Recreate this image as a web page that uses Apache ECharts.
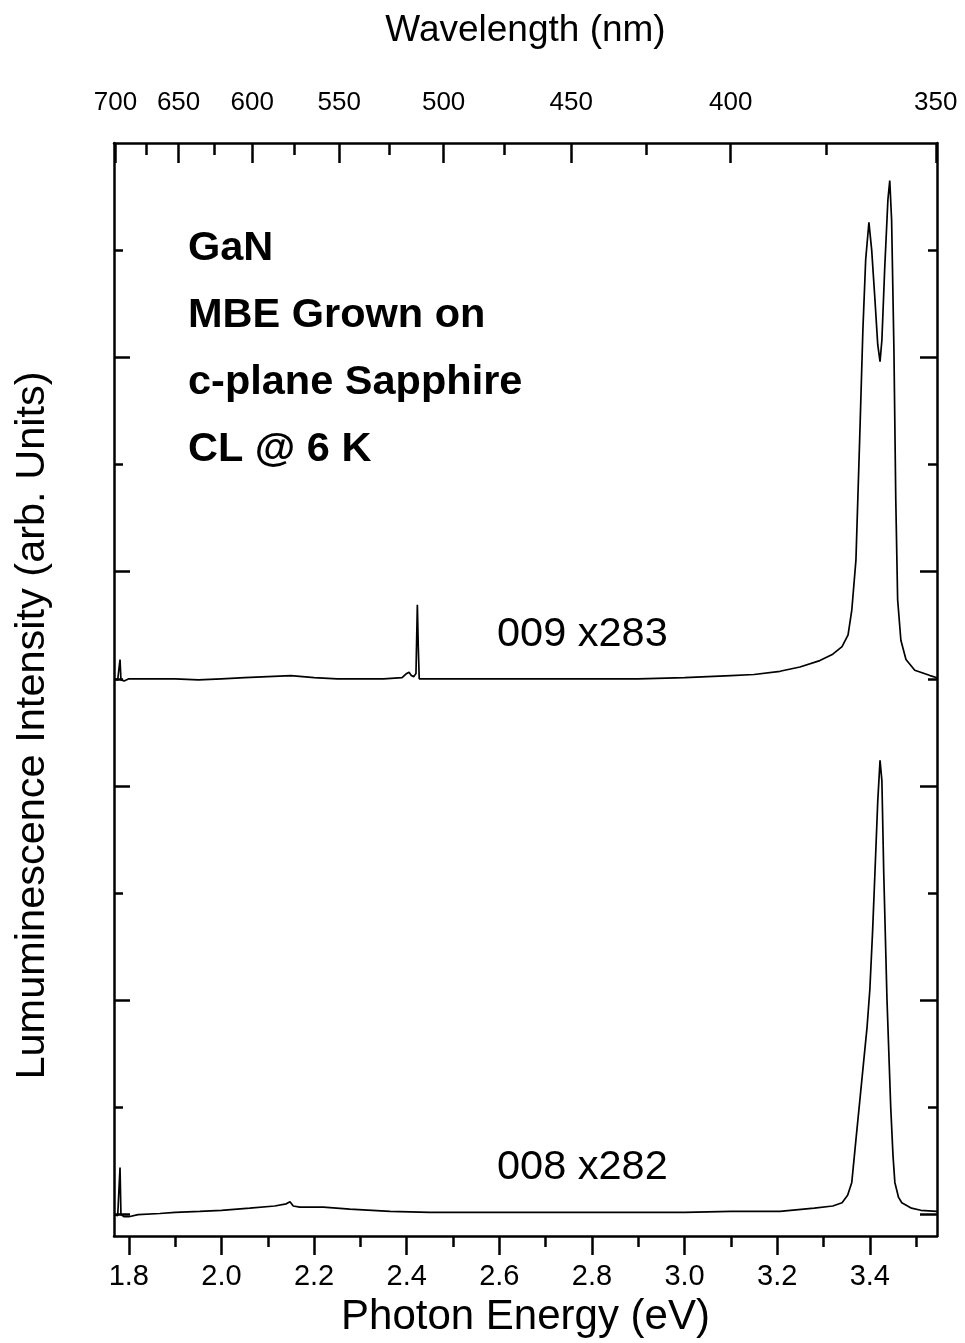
<!DOCTYPE html>
<html>
<head>
<meta charset="utf-8">
<script src="https://cdn.jsdelivr.net/npm/echarts@6/dist/echarts.min.js"></script>
<style>
  html, body { margin: 0; padding: 0; background: #ffffff; }
  #chart { width: 965px; height: 1343px; }
</style>
</head>
<body>
<div id="chart"></div>
<script>
// Photon energy <-> wavelength conversion constant (eV·nm)
const HC = 1239.84;

// Axis ranges and tick values
const energyRange = [1.768, 3.545];
const intensityRange = [-0.2, 10.0];
const energyTicks = [1.8, 2.0, 2.2, 2.4, 2.6, 2.8, 3.0, 3.2, 3.4];
const energyMinorTicks = [1.9, 2.1, 2.3, 2.5, 2.7, 2.9, 3.1, 3.3, 3.5];
const wavelengthTicks = [700, 650, 600, 550, 500, 450, 400, 350];
const wavelengthMinorTicks = [675, 625, 575, 525, 475, 425, 375];
const intensityTicks = [0, 2, 4, 6, 8];
const intensityMinorTicks = [1, 3, 5, 7, 9];

// Sample 009 (scaled x283, offset by 5 units)
const energy009 = [1.768, 1.776, 1.779, 1.781, 1.783, 1.79, 1.80, 1.85, 1.90, 1.95, 2.00, 2.05, 2.10, 2.15, 2.20, 2.25, 2.30, 2.35, 2.39, 2.400, 2.405, 2.410, 2.415, 2.420, 2.423, 2.425, 2.427, 2.45, 2.50, 2.60, 2.70, 2.80, 2.90, 3.00, 3.10, 3.15, 3.206, 3.249, 3.292, 3.320, 3.340, 3.353, 3.361, 3.370, 3.378, 3.385, 3.391, 3.398, 3.404, 3.411, 3.417, 3.422, 3.426, 3.432, 3.439, 3.443, 3.447, 3.452, 3.456, 3.460, 3.467, 3.478, 3.497, 3.530, 3.545];
const intensity009 = [5.00, 4.99, 5.00, 5.18, 4.99, 4.98, 5.00, 5.00, 5.00, 4.99, 5.00, 5.01, 5.02, 5.03, 5.01, 5.00, 5.00, 5.00, 5.01, 5.05, 5.06, 5.03, 5.02, 5.05, 5.69, 5.30, 5.00, 5.00, 5.00, 5.00, 5.00, 5.00, 5.00, 5.01, 5.03, 5.04, 5.07, 5.11, 5.17, 5.23, 5.30, 5.41, 5.64, 6.11, 7.23, 8.26, 8.91, 9.26, 9.00, 8.54, 8.12, 7.96, 8.16, 8.82, 9.47, 9.65, 9.28, 8.07, 6.67, 5.74, 5.36, 5.18, 5.08, 5.03, 5.01];

// Sample 008 (scaled x282)
const energy008 = [1.768, 1.776, 1.779, 1.781, 1.783, 1.79, 1.80, 1.82, 1.867, 1.90, 1.953, 2.00, 2.061, 2.115, 2.140, 2.148, 2.155, 2.169, 2.22, 2.277, 2.364, 2.45, 2.55, 2.70, 2.85, 3.00, 3.10, 3.206, 3.28, 3.32, 3.340, 3.352, 3.361, 3.370, 3.378, 3.386, 3.394, 3.400, 3.406, 3.411, 3.417, 3.422, 3.426, 3.430, 3.437, 3.445, 3.450, 3.454, 3.462, 3.469, 3.49, 3.51, 3.545];
const intensity008 = [0.00, -0.01, 0.00, 0.44, 0.00, -0.02, -0.02, 0.00, 0.01, 0.02, 0.03, 0.04, 0.06, 0.08, 0.10, 0.12, 0.08, 0.07, 0.07, 0.05, 0.03, 0.02, 0.02, 0.02, 0.02, 0.02, 0.03, 0.03, 0.06, 0.08, 0.11, 0.18, 0.30, 0.70, 1.05, 1.40, 1.75, 2.10, 2.65, 3.19, 3.85, 4.24, 4.05, 3.19, 2.01, 1.01, 0.55, 0.30, 0.16, 0.11, 0.06, 0.04, 0.03];

// Annotation text
const sampleLines = ['GaN', 'MBE Grown on', 'c-plane Sapphire', 'CL @ 6 K'];
const seriesTags = ['009 x283', '008 x282'];

const FONT = '"Liberation Sans", Arial, Helvetica, sans-serif';
const INK = '#000000';

function pairs(xs, ys) {
  return xs.map((x, i) => [x, ys[i]]);
}
const toEnergy = (nm) => HC / nm;

function baseX(extra) {
  return Object.assign({
    type: 'value',
    gridIndex: 0,
    min: energyRange[0],
    max: energyRange[1],
    splitLine: { show: false },
    axisLine: { show: false, onZero: false },
    axisLabel: { show: false },
    axisTick: { show: false }
  }, extra);
}
function baseY(extra) {
  return Object.assign({
    type: 'value',
    gridIndex: 0,
    min: intensityRange[0],
    max: intensityRange[1],
    splitLine: { show: false },
    axisLine: { show: false, onZero: false },
    axisLabel: { show: false },
    axisTick: { show: false }
  }, extra);
}

const lineAxis = { show: true, onZero: false, lineStyle: { color: INK, width: 2.5 } };
const tickStyle = { color: INK, width: 2.5 };

const chart = echarts.init(document.getElementById('chart'), null, { renderer: 'canvas' });

chart.setOption({
  animation: false,
  backgroundColor: '#ffffff',
  grid: {
    left: 114, right: 28, top: 143, bottom: 107,
    containLabel: false,
    outerBoundsMode: 'none'
  },
  xAxis: [
    // bottom: photon energy, major ticks + labels
    baseX({
      position: 'bottom',
      name: 'Photon Energy (eV)',
      nameLocation: 'middle',
      nameGap: 60,
      nameTextStyle: { fontFamily: FONT, fontSize: 42, color: INK },
      axisLine: lineAxis,
      axisTick: { show: true, inside: false, length: 19, lineStyle: tickStyle, customValues: energyTicks },
      axisLabel: {
        show: true, margin: 26, fontFamily: FONT, fontSize: 29, color: INK,
        customValues: energyTicks,
        formatter: (v) => v.toFixed(1)
      }
    }),
    // bottom: minor ticks
    baseX({
      position: 'bottom',
      axisTick: { show: true, inside: false, length: 11, lineStyle: tickStyle, customValues: energyMinorTicks }
    }),
    // top: wavelength, major ticks + labels
    baseX({
      position: 'top',
      name: 'Wavelength (nm)',
      nameLocation: 'middle',
      nameGap: 94,
      nameTextStyle: { fontFamily: FONT, fontSize: 37, color: INK },
      axisLine: lineAxis,
      axisTick: { show: true, inside: true, length: 20, lineStyle: tickStyle, customValues: wavelengthTicks.map(toEnergy) },
      axisLabel: {
        show: true, margin: 27, fontFamily: FONT, fontSize: 26, color: INK,
        customValues: wavelengthTicks.map(toEnergy),
        formatter: (v) => String(Math.round(HC / v))
      }
    }),
    // top: minor wavelength ticks
    baseX({
      position: 'top',
      axisTick: { show: true, inside: true, length: 12, lineStyle: tickStyle, customValues: wavelengthMinorTicks.map(toEnergy) }
    })
  ],
  yAxis: [
    // left: intensity axis with title
    baseY({
      position: 'left',
      name: 'Lumuminescence Intensity (arb. Units)',
      nameLocation: 'middle',
      nameGap: 60,
      nameTextStyle: { fontFamily: FONT, fontSize: 41.5, color: INK, padding: [0, 72, 0, 0] },
      axisLine: lineAxis,
      axisTick: { show: true, inside: true, length: 16, lineStyle: tickStyle, customValues: intensityTicks }
    }),
    baseY({
      position: 'left',
      axisTick: { show: true, inside: true, length: 9, lineStyle: tickStyle, customValues: intensityMinorTicks }
    }),
    // right: mirrored ticks
    baseY({
      position: 'right',
      axisLine: lineAxis,
      axisTick: { show: true, inside: true, length: 17, lineStyle: tickStyle, customValues: intensityTicks }
    }),
    baseY({
      position: 'right',
      axisTick: { show: true, inside: true, length: 9, lineStyle: tickStyle, customValues: intensityMinorTicks }
    })
  ],
  series: [
    {
      name: '009 x283',
      type: 'line',
      xAxisIndex: 0,
      yAxisIndex: 0,
      data: pairs(energy009, intensity009),
      showSymbol: false,
      smooth: false,
      clip: true,
      lineStyle: { color: INK, width: 1.7 },
      z: 3
    },
    {
      name: '008 x282',
      type: 'line',
      xAxisIndex: 0,
      yAxisIndex: 0,
      data: pairs(energy008, intensity008),
      showSymbol: false,
      smooth: false,
      clip: true,
      lineStyle: { color: INK, width: 1.7 },
      z: 3
    }
  ],
  graphic: [
    ...sampleLines.map((t, i) => ({
      type: 'text',
      left: 188,
      top: 228 + i * 67,
      style: { text: t, fontFamily: FONT, fontSize: 41.5, fontWeight: 'bold', fill: INK }
    })),
    {
      type: 'text', left: 497, top: 614,
      style: { text: seriesTags[0], fontFamily: FONT, fontSize: 41.5, fill: INK }
    },
    {
      type: 'text', left: 497, top: 1147,
      style: { text: seriesTags[1], fontFamily: FONT, fontSize: 41.5, fill: INK }
    }
  ]
});
</script>
</body>
</html>
